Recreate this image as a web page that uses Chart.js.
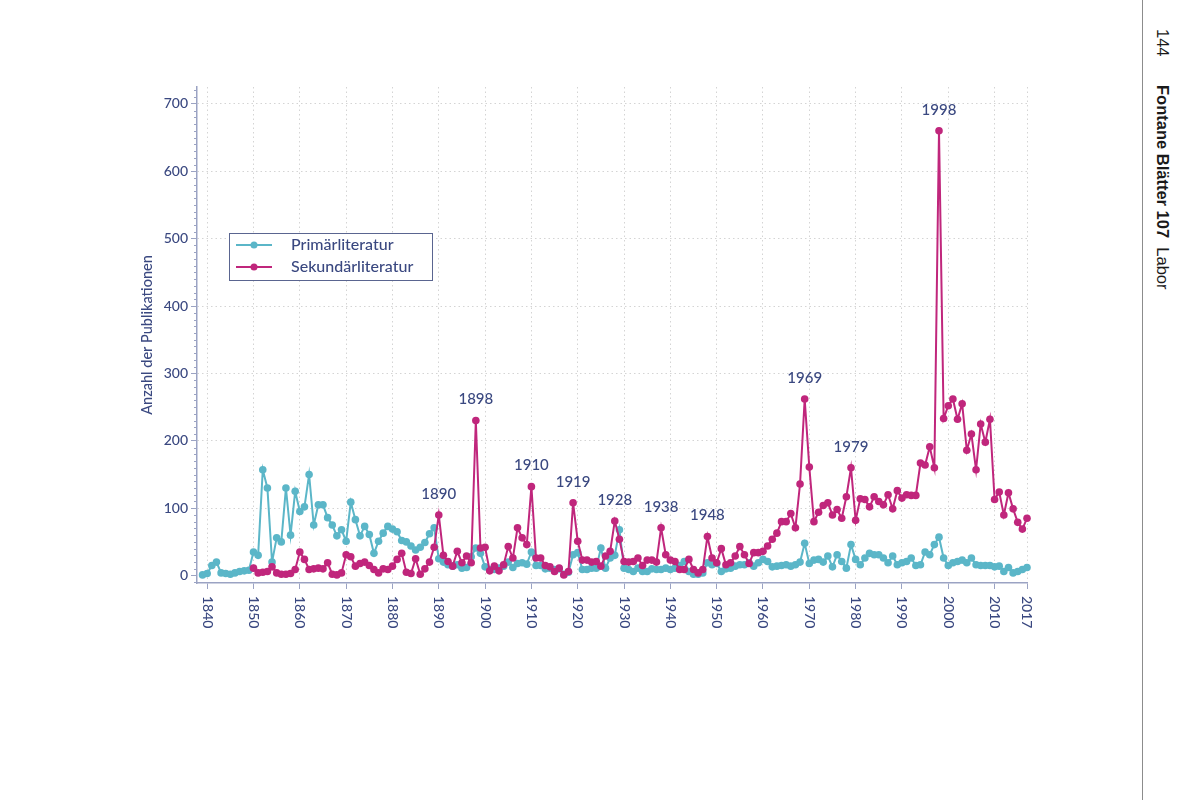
<!DOCTYPE html>
<html lang="de">
<head>
<meta charset="utf-8">
<title>Publikationen Fontane</title>
<script src="https://cdn.jsdelivr.net/npm/chart.js@4.4.1/dist/chart.umd.min.js"></script>
<style>
  html, body { margin: 0; padding: 0; background: #fff; }
  body { width: 1200px; height: 800px; position: relative; overflow: hidden; }
  #diagramm { position: absolute; left: 0; top: 0; }
  #rand { position: absolute; left: 1142px; top: 0; width: 1px; height: 800px; background: #8c8c8c; }
  .kopf { position: absolute; left: 1154px; writing-mode: vertical-rl; font-family: "Liberation Sans", Arial, sans-serif;
          font-size: 16.5px; line-height: 18px; color: #1a1a1a; white-space: nowrap; }
</style>
</head>
<body>
<canvas id="diagramm" width="1140" height="700"></canvas>
<div id="rand"></div>
<div class="kopf" style="top:29px;">144</div>
<div class="kopf" style="top:85px;"><b>Fontane Blätter 107</b>&nbsp;&nbsp;Labor</div>
<script>
/* ===================== DATEN ===================== */
const primStart = 1839;
const primaer = [
  1,
  3, 15, 20, 4, 3, 2, 4, 6, 7, 8,
  35, 30, 157, 130, 20, 56, 50, 130, 60, 125,
  95, 102, 150, 75, 105, 105, 86, 75, 59, 68,
  51, 109, 83, 59, 73, 61, 33, 51, 63, 73,
  69, 65, 52, 50, 44, 38, 42, 49, 62, 71,
  25, 20, 16, 14, 16, 11, 12, 28, 41, 33,
  13, 9, 9, 11, 14, 20, 12, 18, 19, 17,
  35, 15, 15, 10, 11, 9, 10, 2, 5, 31,
  34, 9, 9, 11, 11, 41, 11, 26, 30, 68,
  11, 9, 6, 11, 6, 6, 10, 9, 9, 11,
  9, 11, 15, 21, 6, 2, 2, 4, 19, 16,
  18, 6, 10, 11, 14, 16, 16, 19, 14, 19,
  24, 21, 13, 14, 15, 16, 14, 16, 20, 48,
  18, 23, 24, 20, 29, 13, 31, 21, 11, 46,
  24, 16, 26, 33, 31, 31, 26, 19, 29, 16,
  19, 21, 26, 15, 16, 35, 31, 46, 57, 26,
  15, 19, 21, 23, 19, 26, 16, 15, 15, 15,
  13, 14, 6, 12, 4, 6, 9, 12,
];

const sekStart = 1850;
const sekundaer = [
  11, 4, 5, 6, 13, 4, 2, 2, 3, 9,
  35, 24, 9, 10, 11, 10, 19, 2, 1, 4,
  31, 28, 14, 18, 20, 15, 9, 4, 10, 9,
  14, 24, 33, 5, 3, 25, 2, 10, 20, 42,
  90, 30, 21, 14, 36, 19, 29, 19, 230, 41,
  42, 7, 14, 7, 16, 43, 26, 71, 56, 46,
  132, 26, 26, 15, 13, 6, 11, 1, 6, 108,
  51, 23, 23, 20, 21, 14, 29, 36, 81, 54,
  21, 20, 21, 26, 15, 23, 23, 20, 71, 31,
  23, 21, 9, 9, 24, 9, 4, 9, 58, 26,
  19, 40, 16, 19, 29, 43, 31, 18, 34, 34,
  36, 44, 54, 63, 80, 80, 92, 71, 136, 262,
  161, 80, 94, 104, 108, 90, 98, 85, 117, 160,
  82, 114, 113, 102, 117, 110, 105, 120, 99, 126,
  115, 120, 119, 119, 167, 164, 191, 160, 660, 233,
  252, 262, 232, 255, 186, 210, 157, 225, 198, 232,
  113, 124, 90, 123, 99, 79, 69, 85,
];

const xTicks = [1840, 1850, 1860, 1870, 1880, 1890, 1900, 1910, 1920, 1930,
  1940, 1950, 1960, 1970, 1980, 1990, 2000, 2010, 2017];
const yTicks = [0, 100, 200, 300, 400, 500, 600, 700];
const spitzenJahre = [1890, 1898, 1910, 1919, 1928, 1938, 1948, 1969, 1979, 1998];

/* ===================== FARBEN ===================== */
const TEXT = "#3a4880";
const ACHSE = "#9ba3c3";
const GITTER = "#d4d4d4";
const FARBE_PRIM = "#5bb6c8";
const FARBE_SEK = "#c0267c";
const SCHRIFT = "Lato, 'Open Sans', sans-serif";

function punkte(start, werte) {
  return werte.map((v, i) => ({ x: start + i, y: v }));
}

/* ===================== PLUGINS ===================== */
const xBeschriftung = {
  id: "xBeschriftung",
  afterDraw(chart) {
    const sx = chart.scales.x, ctx = chart.ctx;
    ctx.save();
    ctx.font = "500 14px " + SCHRIFT;
    ctx.fillStyle = TEXT;
    ctx.textAlign = "left";
    ctx.textBaseline = "middle";
    xTicks.forEach((t) => {
      ctx.save();
      ctx.translate(sx.getPixelForValue(t), sx.top + 13);
      ctx.rotate(Math.PI / 2);
      ctx.fillText(String(t), 0, 0);
      ctx.restore();
    });
    ctx.restore();
  },
};

const kleineStriche = {
  id: "kleineStriche",
  afterDraw(chart) {
    const sy = chart.scales.y, ctx = chart.ctx;
    ctx.save();
    ctx.strokeStyle = ACHSE;
    ctx.lineWidth = 1;
    for (let v = -10; v <= 720; v += 10) {
      if (v % 100 === 0) continue;
      const py = Math.round(sy.getPixelForValue(v)) + 0.5;
      ctx.beginPath();
      ctx.moveTo(sy.right - 3, py);
      ctx.lineTo(sy.right, py);
      ctx.stroke();
    }
    ctx.restore();
  },
};

const legende = {
  id: "legende",
  afterDraw(chart) {
    const ctx = chart.ctx, a = chart.chartArea;
    const x = a.left + 32, y = a.top + 146, w = 203, h = 47;
    ctx.save();
    ctx.fillStyle = "#fff";
    ctx.fillRect(x, y, w, h);
    ctx.strokeStyle = "#5a6590";
    ctx.lineWidth = 1;
    ctx.strokeRect(x + 0.5, y + 0.5, w, h);
    chart.data.datasets.forEach((ds, i) => {
      const ly = y + 12 + i * 22;
      ctx.strokeStyle = ds.borderColor;
      ctx.lineWidth = 2;
      ctx.beginPath();
      ctx.moveTo(x + 7, ly);
      ctx.lineTo(x + 43, ly);
      ctx.stroke();
      ctx.fillStyle = ds.borderColor;
      ctx.beginPath();
      ctx.arc(x + 25, ly, 3.5, 0, Math.PI * 2);
      ctx.fill();
      ctx.fillStyle = TEXT;
      ctx.font = "500 16px " + SCHRIFT;
      ctx.textBaseline = "middle";
      ctx.fillText(ds.label, x + 62, ly);
    });
    ctx.restore();
  },
};

const spitzen = {
  id: "spitzen",
  afterDatasetsDraw(chart) {
    const meta = chart.getDatasetMeta(1), ctx = chart.ctx;
    ctx.save();
    ctx.fillStyle = TEXT;
    ctx.font = "500 15px " + SCHRIFT;
    ctx.textAlign = "center";
    ctx.textBaseline = "middle";
    spitzenJahre.forEach((j) => {
      const p = meta.data[j - sekStart];
      ctx.fillText(String(j), p.x, p.y - 21);
    });
    ctx.restore();
  },
};

/* ===================== DIAGRAMM ===================== */
new Chart(document.getElementById("diagramm"), {
  type: "line",
  data: {
    datasets: [
      {
        label: "Primärliteratur",
        data: punkte(primStart, primaer),
        borderColor: FARBE_PRIM,
        backgroundColor: FARBE_PRIM,
        pointBackgroundColor: FARBE_PRIM,
        borderWidth: 2,
        pointRadius: 3.8,
        pointBorderWidth: 0,
        clip: 6,
        order: 2,
      },
      {
        label: "Sekundärliteratur",
        data: punkte(sekStart, sekundaer),
        borderColor: FARBE_SEK,
        backgroundColor: FARBE_SEK,
        pointBackgroundColor: FARBE_SEK,
        borderWidth: 2,
        pointRadius: 3.8,
        pointBorderWidth: 0,
        clip: 6,
        order: 1,
      },
    ],
  },
  plugins: [spitzen, kleineStriche, xBeschriftung, legende],
  options: {
    responsive: false,
    devicePixelRatio: 1,
    animation: false,
    events: [],
    layout: { padding: { left: 136, top: 87, right: 113, bottom: 0 } },
    plugins: { legend: { display: false }, tooltip: { enabled: false } },
    scales: {
      x: {
        type: "linear",
        min: 1837.8,
        max: 2017,
        afterBuildTicks: (s) => { s.ticks = xTicks.map((v) => ({ value: v })); },
        afterFit: (s) => { s.height = 117; },
        ticks: { display: false },
        grid: { color: GITTER, tickColor: ACHSE, tickLength: 6, tickBorderDash: [] },
        border: { color: ACHSE, width: 1.5, dash: [1.5, 3] },
      },
      y: {
        min: -11,
        max: 725,
        afterBuildTicks: (s) => { s.ticks = yTicks.map((v) => ({ value: v })); },
        afterFit: (s) => { s.width = 61; },
        ticks: { color: TEXT, font: { family: SCHRIFT, size: 14, weight: "500" }, padding: 3 },
        grid: {
          color: (c) => (c.tick && c.tick.value === 0 ? "rgba(0,0,0,0)" : GITTER),
          tickColor: ACHSE,
          tickLength: 6,
          tickBorderDash: [],
        },
        border: { color: ACHSE, width: 1.5, dash: [1.5, 3] },
        title: {
          display: true,
          text: "Anzahl der Publikationen",
          color: TEXT,
          font: { family: SCHRIFT, size: 14.5, weight: "500" },
          padding: { top: 3, bottom: 4 },
        },
      },
    },
  },
});
</script>
</body>
</html>
